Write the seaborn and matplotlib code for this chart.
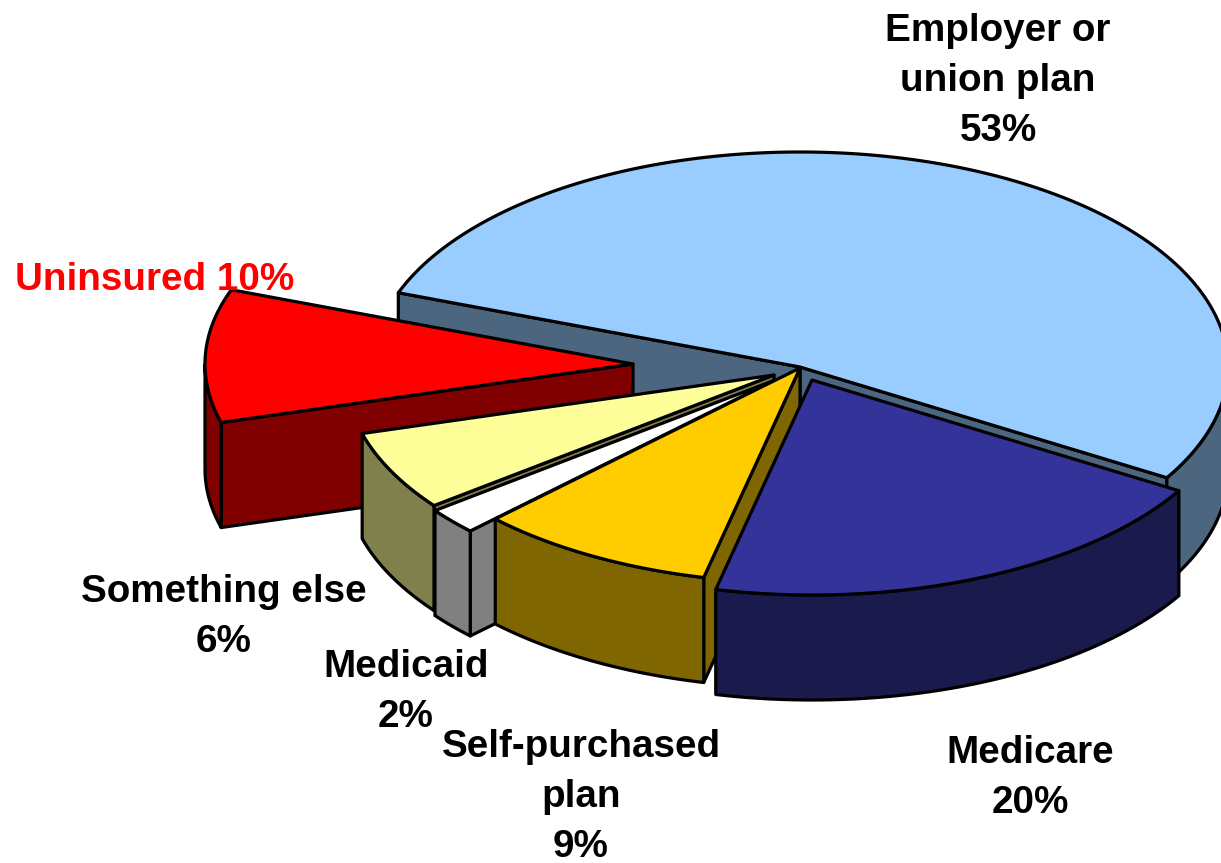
import numpy as np
import seaborn as sns
import matplotlib.pyplot as plt

# share of people, percent, clockwise from the employer slice
names = ['Employer', 'Medicare', 'Self-purchased', 'Medicaid', 'Something else', 'Uninsured']
shares = [53, 20, 9, 2, 6, 10]
top_colors = ['#99CCFF', '#333399', '#FFCC00', '#FFFFFF', '#FFFF99', '#FF0000']
wall_colors = ['#4D6680', '#1A1A4D', '#806600', '#808080', '#80804D', '#800000']

# slice tips in pixels (exploded pie)
tips = [(800, 367), (812, 380), (800, 368), (775, 380), (774, 375), (633, 364)]
draw_order = [0, 5, 4, 3, 2, 1]

START = 159.8
RX, RY = 428, 215
DEPTH = 105
LW = 2.3

sns.set_theme(style='white')
plt.rcParams['font.family'] = ['Liberation Sans', 'DejaVu Sans']

fig = plt.figure(figsize=(12.21, 8.63), dpi=100)
ax = fig.add_axes([0, 0, 1, 1])
ax.set_xlim(0, 1221)
ax.set_ylim(863, 0)
ax.axis('off')


def outline(a1, a2, tip):
	t = np.radians(np.linspace(a1, a2, 200))
	return tip[0] + RX * np.cos(t), tip[1] - RY * np.sin(t)


def face(xs, ys, color):
	ax.fill(xs, ys, facecolor=color, edgecolor='black', lw=LW, joinstyle='round')


def wall_shows(tip, ex, ey, mx, my):
	# the wall hangs below its edge, so it shows if "below" is outside the slice
	ux, uy = ex - tip[0], ey - tip[1]
	side_mid = ux * (my - tip[1]) - uy * (mx - tip[0])
	side_down = ux * DEPTH
	return side_mid * side_down < 0


ends = START - np.cumsum(shares) * 3.6
begins = np.r_[START, ends[:-1]]

for i in draw_order:
	tip = tips[i]
	x, y = outline(begins[i], ends[i], tip)
	top = top_colors[i]
	wall = wall_colors[i]
	# radial walls
	for k in [0, -1]:
		if wall_shows(tip, x[k], y[k], x[100], y[100]):
			face([tip[0], x[k], x[k], tip[0]], [tip[1], y[k], y[k] + DEPTH, tip[1] + DEPTH], wall)
	# rim, only the part facing the viewer
	t = np.radians(np.linspace(begins[i], ends[i], 200))
	front = np.sin(t) <= 0
	if front.any():
		rx = x[front]
		ry = y[front]
		face(np.r_[rx, rx[::-1]], np.r_[ry, ry[::-1] + DEPTH], wall)
	face(np.r_[tip[0], x], np.r_[tip[1], y], top)

font = dict(fontsize=27.8, fontweight='bold', ha='center', va='center', color='black', linespacing=1.5)
ax.text(998, 81, 'Employer or\nunion plan\n53%', **font)
ax.text(1030, 778, 'Medicare\n20%', **font)
ax.text(581, 797, 'Self-purchased\nplan\n9%', **font)
ax.text(406, 692, 'Medicaid\n2%', **font)
ax.text(224, 617, 'Something else\n6%', **font)
ax.text(155, 280, 'Uninsured 10%', fontsize=27.8, fontweight='bold', ha='center', va='center', color='#FF0000')

plt.savefig('out.png', dpi=100)
